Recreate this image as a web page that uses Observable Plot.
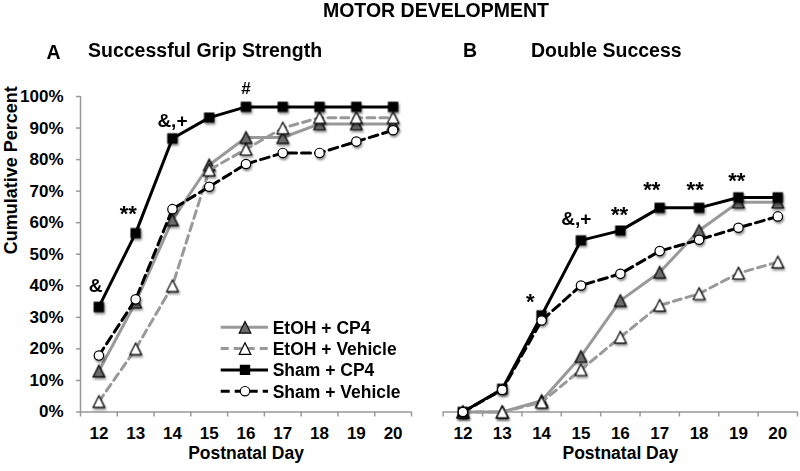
<!DOCTYPE html>
<html><head><meta charset="utf-8">
<script src="https://cdn.jsdelivr.net/npm/d3@7"></script>
<script src="https://cdn.jsdelivr.net/npm/@observablehq/plot@0.6"></script>
<style>
html,body{margin:0;padding:0;background:#fff;}
#wrap{position:relative;width:800px;height:471px;overflow:hidden;font-family:"Liberation Sans",Arial,sans-serif;}
#wrap svg{position:absolute;top:0;overflow:visible;}
#wrap g[aria-label="dot"]{filter:drop-shadow(1.5px 2px 1.2px rgba(0,0,0,0.45));}
</style></head><body><div id="wrap"></div>
<script>
// ---- data ----
const days = [12, 13, 14, 15, 16, 17, 18, 19, 20];
const seriesNames = ["EtOH + CP4", "EtOH + Vehicle", "Sham + CP4", "Sham + Vehicle"];

// Panel A: Successful Grip Strength (cumulative %)
const etohCP4A = [13.0, 34.8, 60.9, 78.3, 87.0, 87.0, 91.3, 91.3, 91.3];
const etohVehA = [3.3, 20.0, 40.0, 76.7, 83.3, 90.0, 93.3, 93.3, 93.3];
const shamCP4A = [33.3, 56.7, 86.7, 93.3, 96.7, 96.7, 96.7, 96.7, 96.7];
const shamVehA = [17.9, 35.7, 64.3, 71.4, 78.6, 82.1, 82.1, 85.7, 89.3];

// Panel B: Double Success (cumulative %)
const etohCP4B = [0, 0, 3.6, 17.6, 35.3, 44.3, 57.5, 66.5, 66.5];
const etohVehB = [0, 0, 3.1, 13.4, 23.7, 33.8, 37.5, 44.0, 47.5];
const shamCP4B = [0, 7.3, 30.6, 54.4, 57.5, 64.7, 64.7, 68.0, 68.0];
const shamVehB = [0, 7.0, 29.0, 40.1, 43.8, 51.0, 54.6, 58.4, 62.0];

// significance annotations (day position, label, value level)
const annotDayA = [11.91, 12.8, 14.0, 16.0];
const annotLabA = ["&", "**", "&,+", "#"];
const annotValA = [40.0, 62.8, 92.4, 102.5];
const annotDayB = [13.71, 14.88, 15.98, 16.8, 17.9, 18.96];
const annotLabB = ["*", "&,+", "**", "**", "**", "**"];
const annotValB = [34.8, 61.2, 62.6, 70.5, 70.5, 73.1];

const yTicks = [0, 10, 20, 30, 40, 50, 60, 70, 80, 90, 100];

// ---- styles ----
const triSym = {draw(ctx, size) {const r = Math.sqrt(size / Math.PI); ctx.moveTo(0, -r); ctx.lineTo(r, r); ctx.lineTo(-r, r); ctx.closePath();}};
const sqSym = {draw(ctx, size) {const r = Math.sqrt(size / Math.PI); ctx.rect(-r, -r, 2 * r, 2 * r);}};
const style = {
  "EtOH + CP4": {stroke: "#999999", dash: null, symbol: triSym, fill: "#6b6b6b", r: 5.8},
  "EtOH + Vehicle": {stroke: "#999999", dash: "8,5", symbol: triSym, fill: "#ffffff", r: 5.8},
  "Sham + CP4": {stroke: "#000000", dash: null, symbol: sqSym, fill: "#000000", r: 4.6},
  "Sham + Vehicle": {stroke: "#000000", dash: "9,5", symbol: "circle", fill: "#ffffff", r: 4.7}
};
const FONT = '"Liberation Sans", Arial, sans-serif';

function toRows(arrs) {
  const rows = [];
  seriesNames.forEach((s, i) => days.forEach((d, j) => rows.push({series: s, day: d, value: arrs[i][j]})));
  return rows;
}
function seriesMarks(rows) {
  const m = [];
  for (const s of seriesNames) {
    const st = style[s];
    const r = rows.filter(d => d.series === s);
    m.push(Plot.line(r, {x: "day", y: "value", stroke: st.stroke, strokeWidth: 3, strokeDasharray: st.dash, strokeLinejoin: "round"}));
    m.push(Plot.dot(r, {x: "day", y: "value", symbol: st.symbol, r: st.r, fill: st.fill, stroke: "#000", strokeWidth: 1.2}));
  }
  return m;
}
function annotMarks(dayArr, labArr, valArr) {
  const a = dayArr.map((d, i) => ({x: d, y: valArr[i], label: labArr[i]}));
  const size = l => l.startsWith("*") ? 22 : (l === "#" ? 17 : 19);
  return [22, 19, 17].map(fs => Plot.text(a.filter(d => size(d.label) === fs), {x: "x", y: "y", text: "label", fontSize: fs, fontWeight: "bold", fill: "#000"}));
}
const xTickBounds = d3.range(11.5, 21, 1);

function commonAxes() {
  return [
    Plot.ruleY([0], {stroke: "#999", strokeWidth: 1.5}),
    Plot.axisX({ticks: xTickBounds, tickSize: 5, tickFormat: () => "", stroke: "#999", strokeWidth: 1.5, label: null}),
    Plot.text(days, {x: d => d, y: () => 0, dy: 21.5, text: d => String(d), fontSize: 17, fontWeight: "bold", fill: "#000"}),
    Plot.text(["Postnatal Day"], {frameAnchor: "bottom", dy: 46.5, text: d => d, fontSize: 17.5, fontWeight: "bold"})
  ];
}

const rowsA = toRows([etohCP4A, etohVehA, shamCP4A, shamVehA]);
const rowsB = toRows([etohCP4B, etohVehB, shamCP4B, shamVehB]);

const plotA = Plot.plot({
  width: 420, height: 471,
  marginLeft: 80, marginRight: 9, marginTop: 96, marginBottom: 59.5,
  style: {fontFamily: FONT, fontSize: "17px", fontWeight: "bold", color: "#000", background: "transparent"},
  x: {type: "linear", domain: [11.5, 20.5], label: null},
  y: {domain: [0, 100], label: null},
  marks: [
    ...commonAxes(),
    Plot.ruleX([11.5], {stroke: "#999", strokeWidth: 1.5}),
    Plot.axisY({ticks: yTicks, tickSize: 4, tickFormat: () => "", stroke: "#999", strokeWidth: 1.5, label: null}),
    Plot.text(yTicks, {x: () => 11.5, y: d => d, dx: -17, textAnchor: "end", text: d => d + "%", fontSize: 17, fontWeight: "bold", fill: "#000"}),
    Plot.text(["Cumulative Percent"], {frameAnchor: "left", dx: -69, rotate: -90, text: d => d, fontSize: 18, fontWeight: "bold"}),
    ...seriesMarks(rowsA),
    ...annotMarks(annotDayA, annotLabA, annotValA)
  ]
});
plotA.style.left = "0px";

const plotB = Plot.plot({
  width: 380, height: 471,
  marginLeft: 22.7, marginRight: 3, marginTop: 96, marginBottom: 59.5,
  style: {fontFamily: FONT, fontSize: "17px", fontWeight: "bold", color: "#000", background: "transparent"},
  x: {type: "linear", domain: [11.5, 20.5], label: null},
  y: {domain: [0, 100], label: null, axis: null},
  marks: [
    ...commonAxes(),
    ...seriesMarks(rowsB),
    ...annotMarks(annotDayB, annotLabB, annotValB)
  ]
});
plotB.style.left = "420px";

const wrap = document.getElementById("wrap");
wrap.appendChild(plotA);
wrap.appendChild(plotB);

// ---- titles and legend overlay ----
const svg = d3.select(wrap).append("svg")
  .attr("width", 800).attr("height", 471)
  .style("left", "0px").style("pointer-events", "none")
  .attr("font-family", FONT).attr("font-weight", "bold");

svg.append("text").attr("x", 436).attr("y", 17).attr("text-anchor", "middle").attr("font-size", 19.5).text("MOTOR DEVELOPMENT");
svg.append("text").attr("x", 46.5).attr("y", 59).attr("font-size", 19.5).text("A");
svg.append("text").attr("x", 88).attr("y", 57).attr("font-size", 19.5).text("Successful Grip Strength");
svg.append("text").attr("x", 463).attr("y", 57).attr("font-size", 19.5).text("B");
svg.append("text").attr("x", 531).attr("y", 57).attr("font-size", 19.5).text("Double Success");

const leg = svg.append("g");
seriesNames.forEach((s, i) => {
  const st = style[s];
  const y = 327.3 + i * 21.3;
  leg.append("line").attr("x1", 220.7).attr("x2", 268).attr("y1", y).attr("y2", y)
    .attr("stroke", st.stroke).attr("stroke-width", 3).attr("stroke-dasharray", st.dash);
  const sym = typeof st.symbol === "string" ? d3.symbolCircle : st.symbol;
  leg.append("path").attr("transform", `translate(245,${y})`)
    .attr("d", d3.symbol(sym, st.r * st.r * Math.PI)())
    .attr("fill", st.fill).attr("stroke", "#000").attr("stroke-width", 1.2);
  leg.append("text").attr("x", 272.7).attr("y", y).attr("dy", "0.36em").attr("font-size", 17.5).text(s);
});
</script></body></html>
